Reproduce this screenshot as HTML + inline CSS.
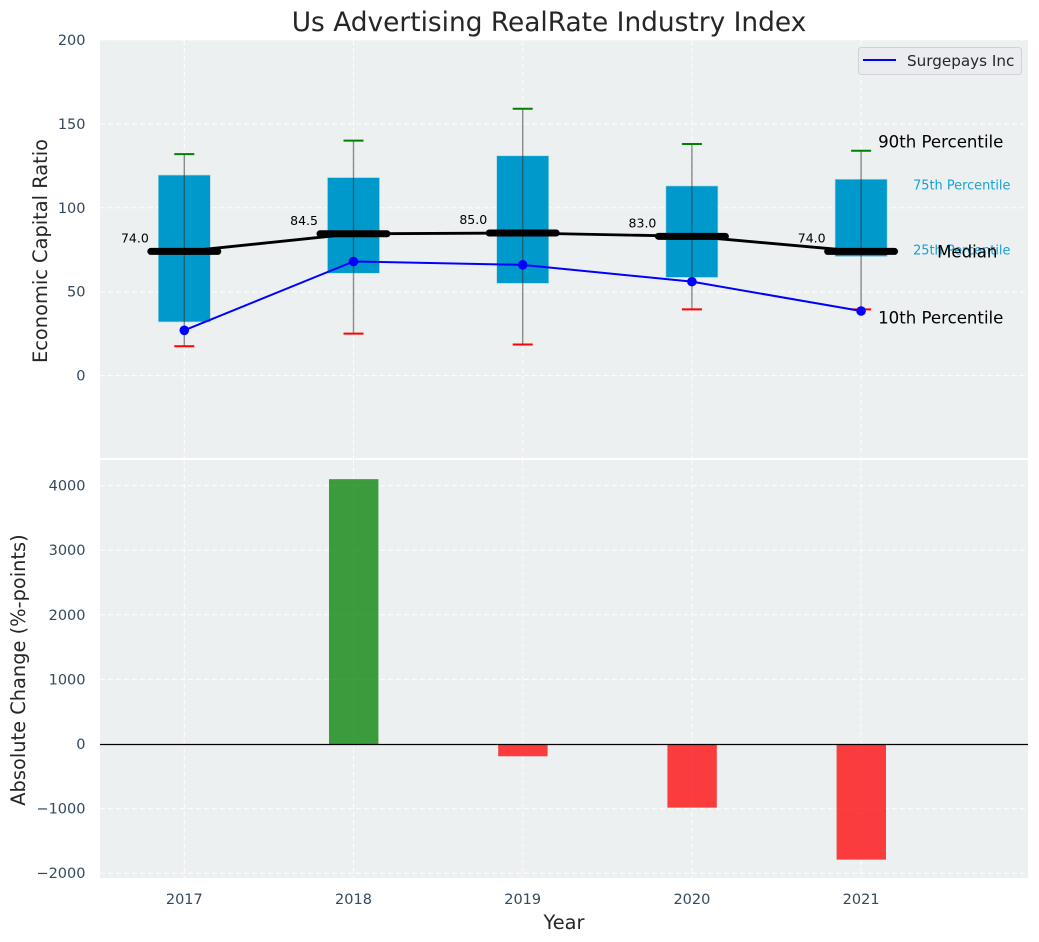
<!DOCTYPE html>
<html lang="en">
<head>
<meta charset="utf-8">
<title>Us Advertising RealRate Industry Index</title>
<style>
html,body{margin:0;padding:0;background:#fff;width:1039px;height:942px;overflow:hidden}
svg{display:block;font-family:"DejaVu Sans","Liberation Sans",sans-serif}
</style>
</head>
<body>
<svg id="chart" width="1039" height="942" viewBox="0 0 1039 942">
  <text x="549" y="31" text-anchor="middle" font-size="26.4px" fill="#262626">Us Advertising RealRate Industry Index</text>
  <rect x="100" y="40" width="928" height="418" fill="#ecf0f1"/>
  <rect x="100" y="460" width="928" height="418" fill="#ecf0f1"/>
  <g id="top-grid"></g>
  <g id="bottom-grid"></g>
  <g id="boxes"></g>
  <g id="median"></g>
  <g id="company"></g>
  <g id="bars"></g>
  <line x1="100" x2="1028" y1="744.5" y2="744.5" stroke="#000" stroke-width="1.3"/>
  <g id="annotations"></g>
  <g id="y-ticks"></g>
  <g id="x-ticks"></g>
  <text transform="translate(47,251) rotate(-90)" text-anchor="middle" font-size="19.4px" fill="#262626">Economic Capital Ratio</text>
  <text transform="translate(25,670) rotate(-90)" text-anchor="middle" font-size="19.4px" fill="#262626">Absolute Change (%-points)</text>
  <text x="564" y="929" text-anchor="middle" font-size="19.4px" fill="#262626">Year</text>
  <g>
    <rect x="858.5" y="47.5" width="163" height="27" rx="3" fill="#eaecf0" stroke="#cfd2d6"/>
    <line x1="863" x2="896" y1="60" y2="60" stroke="#0000ff" stroke-width="2"/>
    <text x="907" y="66" font-size="15.2px" fill="#262626">Surgepays Inc</text>
  </g>
</svg>
<script>
var years = [2017, 2018, 2019, 2020, 2021];
var p90 = [132, 140, 159, 138, 134];
var p75 = [119.5, 118, 131, 113, 117];
var medianValues = [74, 84.5, 85, 83, 74];
var p25 = [32, 61, 55, 58.5, 71];
var p10 = [17.5, 25, 18.5, 39.5, 39.5];
var companyValues = [27, 68, 66, 56, 38.5];
var changeValues = [0, 4100, -190, -985, -1790];
var topTicks = [0, 50, 100, 150, 200];
var bottomTicks = [-2000, -1000, 0, 1000, 2000, 3000, 4000];

var NS = 'http://www.w3.org/2000/svg';
function xS(v) { return 184.3 + (v - 2017) * 169.2; }
function yT(v) { return 375.6 - v * 1.678; }
function yB(v) { return 744 - v * 0.0646; }
function make(parent, tag, attrs, text) {
  var el = document.createElementNS(NS, tag);
  for (var k in attrs) el.setAttribute(k, attrs[k]);
  if (text !== undefined) el.textContent = text;
  document.getElementById(parent).appendChild(el);
  return el;
}
var dash = '5 3';
var el, i;

topTicks.forEach(function (t) {
  el = make('top-grid', 'line', {x1: 100, x2: 1028, y1: yT(t), y2: yT(t), stroke: '#fff', 'stroke-width': 1, 'stroke-dasharray': dash, opacity: 0.9});
  
  
  el = make('y-ticks', 'text', {x: 85.5, y: yT(t) + 5, 'text-anchor': 'end', 'font-size': '14.5px', fill: '#34495e'}, String(t));
  
  
});
bottomTicks.forEach(function (t) {
  el = make('bottom-grid', 'line', {x1: 100, x2: 1028, y1: yB(t), y2: yB(t), stroke: '#fff', 'stroke-width': 1, 'stroke-dasharray': dash, opacity: 0.9});
  
  
  el = make('y-ticks', 'text', {x: 85.5, y: yB(t) + 5, 'text-anchor': 'end', 'font-size': '14.5px', fill: '#34495e'}, String(t).replace('-', '\u2212'));
  
  
});
years.forEach(function (yr) {
  el = make('top-grid', 'line', {x1: xS(yr), x2: xS(yr), y1: 40, y2: 458, stroke: '#fff', 'stroke-width': 1, 'stroke-dasharray': dash, opacity: 0.9});
  
  
  el = make('bottom-grid', 'line', {x1: xS(yr), x2: xS(yr), y1: 460, y2: 878, stroke: '#fff', 'stroke-width': 1, 'stroke-dasharray': dash, opacity: 0.9});
  
  
  el = make('x-ticks', 'text', {x: xS(yr), y: 904, 'text-anchor': 'middle', 'font-size': '14.5px', fill: '#34495e'}, String(yr));
  
  
});

for (i = 0; i < years.length; i++) {
  var cx = xS(years[i]);
  el = make('boxes', 'rect', {x: cx - 26, y: yT(p75[i]), width: 52, height: yT(p25[i]) - yT(p75[i]), fill: '#0099cc', stroke: '#a9d6e6', 'stroke-width': 0.6});
  
  
  el = make('boxes', 'line', {x1: cx, x2: cx, y1: yT(p90[i]), y2: yT(p10[i]), stroke: '#333', 'stroke-width': 1.4, opacity: 0.55});
  
  
  el = make('boxes', 'line', {x1: cx - 10, x2: cx + 10, y1: yT(p90[i]), y2: yT(p90[i]), stroke: '#008000', 'stroke-width': 2});
  
  
  el = make('boxes', 'line', {x1: cx - 10, x2: cx + 10, y1: yT(p10[i]), y2: yT(p10[i]), stroke: '#ff0000', 'stroke-width': 2});
  
  
}

el = make('median', 'polyline', {points: years.map(function (yr, j) { return xS(yr) + ',' + yT(medianValues[j]); }).join(' '), fill: 'none', stroke: '#000', 'stroke-width': 2.8});


for (i = 0; i < years.length; i++) {
  el = make('median', 'line', {x1: xS(years[i]) - 33.5, x2: xS(years[i]) + 33.5, y1: yT(medianValues[i]), y2: yT(medianValues[i]), stroke: '#000', 'stroke-width': 7, 'stroke-linecap': 'round'});
  
  
  el = make('median', 'text', {x: xS(years[i]) - 35.5, y: yT(medianValues[i]) - 9, 'text-anchor': 'end', 'font-size': '12.5px', fill: '#000'}, medianValues[i].toFixed(1));
  
  
}

el = make('company', 'polyline', {points: years.map(function (yr, j) { return xS(yr) + ',' + yT(companyValues[j]); }).join(' '), fill: 'none', stroke: '#0000ff', 'stroke-width': 2});


for (i = 0; i < years.length; i++) {
  el = make('company', 'circle', {cx: xS(years[i]), cy: yT(companyValues[i]), r: 4.8, fill: '#0000ff'});
  
  
}

for (i = 0; i < years.length; i++) {
  var v = changeValues[i];
  if (v === 0) continue;
  el = make('bars', 'rect', {x: xS(years[i]) - 24.5, y: Math.min(yB(v), yB(0)), width: 49.4, height: Math.abs(yB(v) - yB(0)), fill: v > 0 ? '#008000' : '#ff0000', 'fill-opacity': 0.75});
  
  
}

var last = years.length - 1;
var xL = xS(years[last]);
el = make('annotations', 'text', {x: xL + 17, y: yT(p90[last]) - 3, 'font-size': '16.6px', fill: '#000'}, '90th Percentile');


el = make('annotations', 'text', {x: xL + 52, y: yT(p75[last]) + 10, 'font-size': '12.9px', fill: '#0099cc', opacity: 0.9}, '75th Percentile');


el = make('annotations', 'text', {x: xL + 52, y: yT(p25[last]) - 2, 'font-size': '12.9px', fill: '#0099cc', opacity: 0.9}, '25th Percentile');


el = make('annotations', 'text', {x: xL + 76, y: yT(medianValues[last]) + 6, 'font-size': '16.6px', fill: '#000'}, 'Median');


el = make('annotations', 'text', {x: xL + 17, y: yT(p10[last]) + 14, 'font-size': '16.6px', fill: '#000'}, '10th Percentile');


</script>
</body>
</html>
